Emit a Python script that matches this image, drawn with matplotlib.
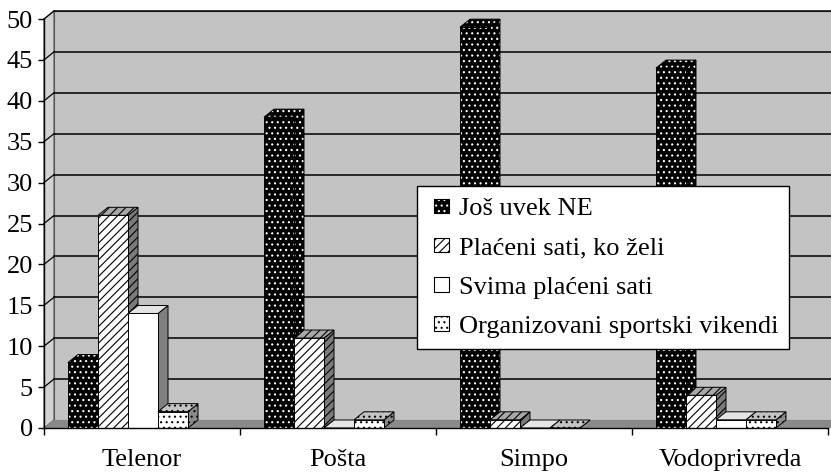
import matplotlib
matplotlib.use('Agg')
import matplotlib.pyplot as plt
from matplotlib.patches import Polygon, Rectangle
from matplotlib.legend_handler import HandlerBase

# ---------------- data ----------------
categories = ['Telenor', 'Pošta', 'Simpo', 'Vodoprivreda']
series_names = ['Još uvek NE', 'Plaćeni sati, ko želi', 'Svima plaćeni sati',
                'Organizovani sportski vikendi']
jos_uvek_ne = [8, 38, 49, 44]
placeni_ko_zeli = [26, 11, 1, 4]
svima_placeni = [14, 0, 0, 1]
sportski_vikendi = [2, 1, 0, 1]
y_ticks = [0, 5, 10, 15, 20, 25, 30, 35, 40, 45, 50]

series = [jos_uvek_ne, placeni_ko_zeli, svima_placeni, sportski_vikendi]

# ---------------- styles ----------------
# (front, side, top): each (facecolor, hatch, hatchcolor)
styles = [
    (('black', '...', 'white'), ('black', '...', 'white'), ('black', '...', 'white')),
    (('white', '////', 'black'), ('#7a7a7a', '////', 'black'), ('#a8a8a8', '////', 'black')),
    (('white', None, None), ('#7f7f7f', None, None), ('#e4e4e4', None, None)),
    (('white', '...', 'black'), ('#8a8a8a', '...', 'black'), ('#c4c4c4', '...', 'black')),
]

plt.rcParams['font.family'] = ['Liberation Serif', 'DejaVu Serif']
plt.rcParams['hatch.linewidth'] = 0.8
FS = 19

W, H = 831, 472
fig = plt.figure(figsize=(W / 100, H / 100), dpi=100)
ax_l, ax_r, ax_b, ax_t = 44, 828, 428, 19
ax = fig.add_axes([ax_l / W, (H - ax_b) / H, (ax_r - ax_l) / W, (ax_b - ax_t) / H])
ncat = len(categories)
ymax = 50
ax.set_xlim(0, ncat)
ax.set_ylim(0, ymax)

px_x = (ax_r - ax_l) / ncat
px_y = (ax_b - ax_t) / ymax
dx = 10 / px_x
dy = 8 / px_y


def face(verts, fc, hatch, hc, z, lw=0.7, ec='black'):
    ax.add_patch(Polygon(verts, closed=True, facecolor=fc,
                         edgecolor=(hc if hatch else 'none'), hatch=hatch,
                         lw=0, zorder=z, clip_on=False))
    if ec is not None:
        ax.add_patch(Polygon(verts, closed=True, fill=False, edgecolor=ec,
                             lw=lw, zorder=z + 0.01, clip_on=False))


xr = ncat + 0.2
# back wall
face([(dx, dy), (xr, dy), (xr, ymax + dy), (dx, ymax + dy)], '#c3c3c3', None, None, 0.1,
     ec='#555555', lw=0.8)
# side wall
face([(0, 0), (dx, dy), (dx, ymax + dy), (0, ymax)], '#d2d2d2', None, None, 0.2,
     ec='#555555', lw=0.8)
# floor
face([(0, 0), (xr, 0), (xr + dx, dy), (dx, dy)], '#8a8a8a', None, None, 0.3, ec=None)

# gridlines
for v in y_ticks[1:]:
    ax.plot([dx, xr], [v + dy, v + dy], color='black', lw=1.1, zorder=0.5, clip_on=False)
    ax.plot([0, dx], [v, v + dy], color='black', lw=0.9, zorder=0.5, clip_on=False)

# bars
bw = 30 / px_x
off = 24 / px_x
z = 2
for c in range(ncat):
    for i, vals in enumerate(series):
        h = vals[c]
        x0 = c + off + i * bw
        fr, sd, tp = styles[i]
        face([(x0 + bw, 0), (x0 + bw + dx, dy), (x0 + bw + dx, h + dy), (x0 + bw, h)],
             sd[0], sd[1], sd[2], z)
        face([(x0, h), (x0 + dx, h + dy), (x0 + bw + dx, h + dy), (x0 + bw, h)],
             tp[0], tp[1], tp[2], z + 0.1)
        face([(x0, 0), (x0 + bw, 0), (x0 + bw, h), (x0, h)],
             fr[0], fr[1], fr[2], z + 0.2)
        z += 1

# axes, ticks
for s in ['top', 'right']:
    ax.spines[s].set_visible(False)
for s in ['left', 'bottom']:
    ax.spines[s].set_color('black')
    ax.spines[s].set_linewidth(1.0)
    ax.spines[s].set_zorder(100)
ax.set_yticks(y_ticks)
ax.set_yticklabels([str(v) for v in y_ticks])
ax.set_xticks([c + 0.5 for c in range(ncat)])
ax.set_xticklabels(categories)
ax.set_xticks(list(range(ncat + 1)), minor=True)
ax.tick_params(axis='x', which='major', length=0, pad=15, labelsize=FS)
ax.tick_params(axis='x', which='minor', length=5, width=1, direction='out')
ax.tick_params(axis='y', length=4, width=1, direction='out', pad=4, labelsize=FS)
ax.set_facecolor('none')


# legend with small square swatches
class SquareHandler(HandlerBase):
    def __init__(self, style, size):
        super().__init__()
        self.style = style
        self.size = size

    def create_artists(self, legend, orig_handle, xdescent, ydescent, width, height,
                       fontsize, trans):
        fc, hatch, hc = self.style
        s = self.size
        x = width - xdescent - s
        y = (height - ydescent) / 2 - s / 2
        r1 = Rectangle((x, y), s, s, facecolor=fc, edgecolor=(hc if hatch else 'none'),
                       hatch=hatch, lw=0, transform=trans)
        r2 = Rectangle((x, y), s, s, fill=False, edgecolor='black', lw=0.8, transform=trans)
        return [r1, r2]


handles = [Rectangle((0, 0), 1, 1) for _ in series_names]
hmap = {h: SquareHandler(st[0], 10.5) for h, st in zip(handles, styles)}
leg = ax.legend(handles, series_names, handler_map=hmap,
                loc='upper left', bbox_to_anchor=(417 / W, 1 - 186 / H),
                bbox_transform=fig.transFigure, borderaxespad=0, frameon=True,
                fancybox=False, framealpha=1, edgecolor='black', fontsize=FS,
                handlelength=0.81, handleheight=0.7, handletextpad=0.38,
                labelspacing=0.6, borderpad=0.4)
leg.get_frame().set_linewidth(1.0)
leg.set_zorder(200)

fig.savefig('out.png', dpi=100)
